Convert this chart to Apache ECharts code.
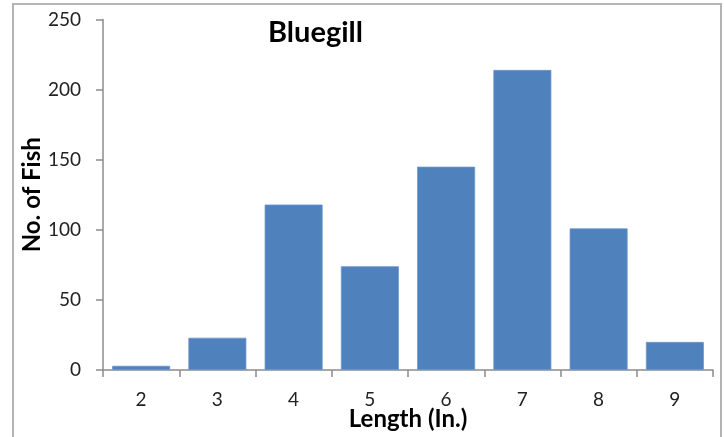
<!DOCTYPE html>
<html>
<head>
<meta charset="utf-8">
<script src="https://cdn.jsdelivr.net/npm/echarts@6/dist/echarts.min.js"></script>
<style>
  html, body { margin: 0; padding: 0; background: #fff; }
  #chart { width: 724px; height: 437px; }
</style>
</head>
<body>
<div id="chart"></div>
<script>
// Bluegill length-frequency data
const lengths = ['2', '3', '4', '5', '6', '7', '8', '9'];
const fishCounts = [3, 23, 118, 74, 145, 214, 101, 20];
const yTicks = [0, 50, 100, 150, 200, 250];

const FONT = 'Lato, "Liberation Sans", sans-serif';
const chart = echarts.init(document.getElementById('chart'));

chart.setOption({
  animation: false,
  backgroundColor: '#ffffff',
  graphic: [{
    type: 'rect',
    shape: { x: 13, y: 4, width: 708, height: 460 },
    style: { fill: 'none', stroke: '#b4b4b4', lineWidth: 2 },
    silent: true,
    z: -1
  }, {
    type: 'text',
    left: 268, top: 18,
    style: { text: 'Bluegill', font: 'bold 29px ' + FONT, fill: '#000' }
  }],
  grid: { left: 103, right: 11, top: 19.5, bottom: 67, outerBoundsMode: 'none', containLabel: false },
  xAxis: {
    type: 'category',
    data: lengths,
    name: 'Length (In.)',
    nameLocation: 'middle',
    nameGap: 37,
    nameMoveOverlap: false,
    nameTextStyle: { fontFamily: FONT, fontWeight: 'bold', fontSize: 24, color: '#000' },
    axisLine: { lineStyle: { color: '#8c8c8c', width: 1.5 } },
    axisTick: { show: true, length: 7, lineStyle: { color: '#8c8c8c', width: 1.5 } },
    axisLabel: { fontFamily: FONT, fontSize: 19, color: '#222', margin: 20 }
  },
  yAxis: {
    type: 'value',
    min: yTicks[0],
    max: yTicks[yTicks.length - 1],
    interval: 50,
    name: 'No. of Fish',
    nameLocation: 'middle',
    nameGap: 59,
    nameMoveOverlap: false,
    nameRotate: 90,
    nameTextStyle: { fontFamily: FONT, fontWeight: 'bold', fontSize: 24, color: '#000' },
    splitLine: { show: false },
    axisLine: { show: true, lineStyle: { color: '#8c8c8c', width: 1.5 } },
    axisTick: { show: true, length: 7, lineStyle: { color: '#8c8c8c', width: 1.5 } },
    axisLabel: { fontFamily: FONT, fontSize: 19, color: '#222', margin: 22 }
  },
  series: [{
    type: 'bar',
    data: fishCounts,
    barCategoryGap: '24%',
    itemStyle: { color: '#4f81bd', borderColor: '#6a96cc', borderWidth: 0.8 }
  }]
});
</script>
</body>
</html>
